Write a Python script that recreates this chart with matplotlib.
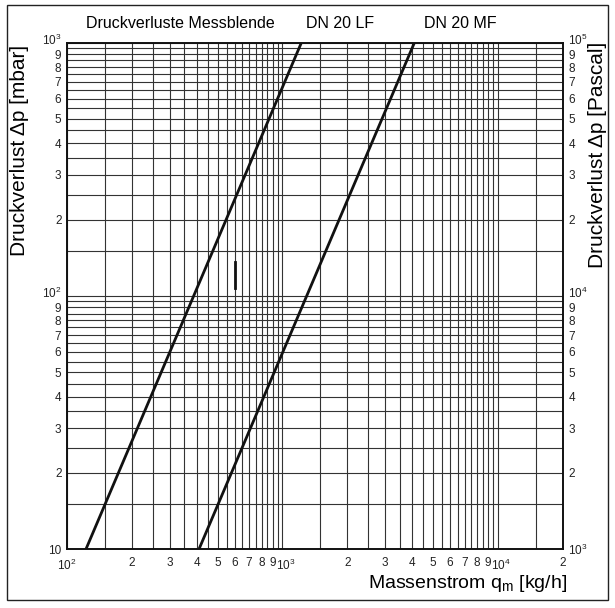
import matplotlib.pyplot as plt
import matplotlib.patches as patches
import matplotlib.transforms as mtransforms
from matplotlib.ticker import FixedLocator, FixedFormatter, NullFormatter
import numpy as np

plt.rcParams['font.family'] = ['Liberation Sans', 'DejaVu Sans']
plt.rcParams['mathtext.fontset'] = 'custom'
plt.rcParams['mathtext.rm'] = 'Liberation Sans'
plt.rcParams['mathtext.it'] = 'Liberation Sans:italic'

# Kennlinien (Massenstrom kg/h -> Druckverlust mbar)
lf_q = [122.5, 1225]
lf_dp = [10, 1000]
mf_q = [410, 4100]
mf_dp = [10, 1000]

# kleiner Strich im Diagramm
mark_q = [600, 600]
mark_dp = [107, 136]

# Achsbeschriftungen
x_ticks = [100, 200, 300, 400, 500, 600, 700, 800, 900,
           1000, 2000, 3000, 4000, 5000, 6000, 7000, 8000, 9000,
           10000, 20000]
x_labels = ['$10^2$', '2', '3', '4', '5', '6', '7', '8', '9',
            '$10^3$', '2', '3', '4', '5', '6', '7', '8', '9',
            '$10^4$', '2']
y_ticks = [10, 20, 30, 40, 50, 60, 70, 80, 90,
           100, 200, 300, 400, 500, 600, 700, 800, 900, 1000]
y_labels = ['10', '2', '3', '4', '5', '6', '7', '8', '9',
            '$10^2$', '2', '3', '4', '5', '6', '7', '8', '9', '$10^3$']
y2_ticks = [v * 100 for v in y_ticks]
y2_labels = ['$10^3$', '2', '3', '4', '5', '6', '7', '8', '9',
             '$10^4$', '2', '3', '4', '5', '6', '7', '8', '9', '$10^5$']

# Gitter in 0,5er Schritten je Dekade
steps = np.arange(1, 10, 0.5)
grid_x = [s * d for d in (100, 1000, 10000) for s in steps if s * d <= 20000]
grid_y = [s * d for d in (10, 100) for s in steps] + [1000]

fig = plt.figure(figsize=(6.15, 6.08), dpi=100)
ax = fig.add_axes([0.109, 0.097, 0.806, 0.833])
ax.set_xscale('log')
ax.set_yscale('log')
ax.set_xlim(100, 20000)
ax.set_ylim(10, 1000)

for gx in grid_x:
    ax.axvline(gx, color='#333333', lw=0.8, zorder=1)
for gy in grid_y:
    ax.axhline(gy, color='#333333', lw=0.8, zorder=1)

ax.plot(lf_q, lf_dp, color='#111111', lw=2.0, zorder=3)
ax.plot(mf_q, mf_dp, color='#111111', lw=2.0, zorder=3)
ax.plot(mark_q, mark_dp, color='#111111', lw=2.0, zorder=3)

ax.xaxis.set_major_locator(FixedLocator(x_ticks))
ax.xaxis.set_major_formatter(FixedFormatter(x_labels))
ax.xaxis.set_minor_formatter(NullFormatter())
ax.yaxis.set_major_locator(FixedLocator(y_ticks))
ax.yaxis.set_major_formatter(FixedFormatter(y_labels))
ax.yaxis.set_minor_formatter(NullFormatter())
ax.tick_params(which='both', length=0, labelsize=8.5, colors='#222222')
ax.tick_params(axis='x', pad=6)
ax.tick_params(axis='y', pad=4)

ax2 = ax.twinx()
ax2.set_yscale('log')
ax2.set_ylim(1000, 100000)
ax2.yaxis.set_major_locator(FixedLocator(y2_ticks))
ax2.yaxis.set_major_formatter(FixedFormatter(y2_labels))
ax2.yaxis.set_minor_formatter(NullFormatter())
ax2.tick_params(which='both', length=0, labelsize=8.5, colors='#222222', pad=4)

for a in (ax, ax2):
    for sp in a.spines.values():
        sp.set_linewidth(1.2)
        sp.set_color('#111111')

# Zehnerpotenzen etwas vom Nachbarn wegschieben
right = mtransforms.ScaledTranslation(3 / 100, 0, fig.dpi_scale_trans)
up = mtransforms.ScaledTranslation(0, 4 / 100, fig.dpi_scale_trans)
for lab in ax.get_xticklabels():
    if lab.get_text() in ('$10^3$', '$10^4$'):
        lab.set_transform(lab.get_transform() + right)
for lab in ax.get_yticklabels():
    if lab.get_text() in ('$10^2$', '$10^3$'):
        lab.set_transform(lab.get_transform() + up)
for lab in ax2.get_yticklabels():
    if lab.get_text() in ('$10^4$', '$10^5$'):
        lab.set_transform(lab.get_transform() + up)

title_font = ['Liberation Sans Narrow', 'Liberation Sans']
fig.text(0.293, 0.962, 'Druckverluste Messblende', ha='center', va='center',
         fontsize=11.5, family=title_font)
fig.text(0.553, 0.962, 'DN 20 LF', ha='center', va='center',
         fontsize=11.5, family=title_font)
fig.text(0.748, 0.962, 'DN 20 MF', ha='center', va='center',
         fontsize=11.5, family=title_font)

fig.text(0.031, 0.752, 'Druckverlust Δp [mbar]', rotation=90,
         ha='center', va='center', fontsize=15)
fig.text(0.972, 0.745, 'Druckverlust Δp [Pascal]', rotation=90,
         ha='center', va='center', fontsize=15)
fig.text(0.922, 0.041, 'Massenstrom q$_\\mathrm{m}$ [kg/h]',
         ha='right', va='center', fontsize=14)

frame = patches.Rectangle((0.0114, 0.0132), 0.977, 0.979, transform=fig.transFigure,
                          fill=False, lw=1.0, edgecolor='#222222')
fig.patches.append(frame)

fig.savefig('out.png', dpi=100)
